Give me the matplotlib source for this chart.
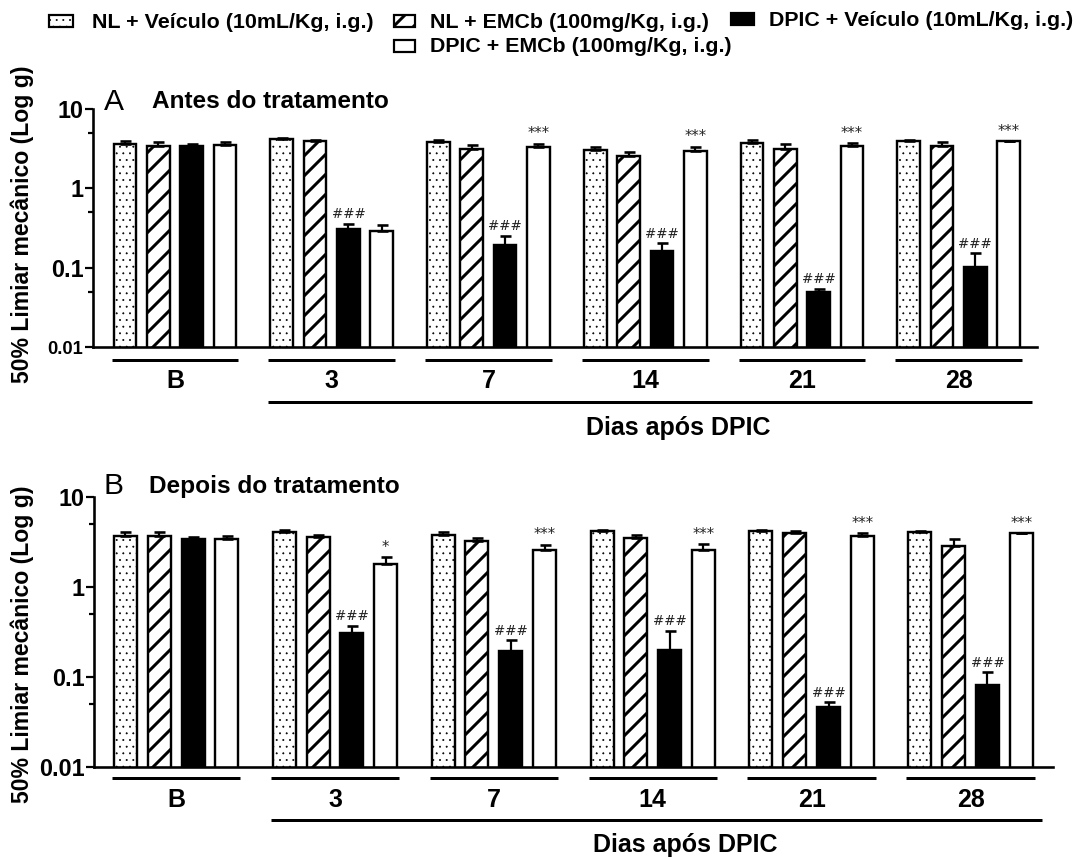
import numpy as np
import matplotlib
matplotlib.use("Agg")
import matplotlib.pyplot as plt
import matplotlib.transforms as mtransforms
from matplotlib.patches import Rectangle
from matplotlib.ticker import LogLocator, NullFormatter, FixedLocator, FixedFormatter

# ---------------------------------------------------------------- data
groups = ["B", "3", "7", "14", "21", "28"]
series_labels = [
    "NL + Veículo (10mL/Kg, i.g.)",
    "NL + EMCb (100mg/Kg, i.g.)",
    "DPIC + Veículo (10mL/Kg, i.g.)",
    "DPIC + EMCb (100mg/Kg, i.g.)",
]

# A: antes do tratamento (média e EPM, g)
a_nl_veh = [3.66, 4.15, 3.84, 3.01, 3.72, 3.99]
a_nl_veh_sem = [0.29, 0.21, 0.26, 0.31, 0.31, 0.11]
a_nl_emcb = [3.39, 3.91, 3.10, 2.53, 3.17, 3.39]
a_nl_emcb_sem = [0.45, 0.12, 0.39, 0.37, 0.49, 0.41]
a_dpic_veh = [3.39, 0.304, 0.191, 0.162, 0.0493, 0.101]
a_dpic_veh_sem = [0.20, 0.055, 0.062, 0.042, 0.005, 0.050]
a_dpic_emcb = [3.56, 0.287, 3.32, 2.95, 3.45, 3.91]
a_dpic_emcb_sem = [0.28, 0.054, 0.34, 0.37, 0.27, 0.0]
a_marks_dpic_veh = ["", "###", "###", "###", "###", "###"]
a_marks_dpic_emcb = ["", "", "***", "***", "***", "***"]

# B: depois do tratamento (média e EPM, g)
b_nl_veh = [3.72, 4.11, 3.74, 4.22, 4.15, 4.08]
b_nl_veh_sem = [0.32, 0.14, 0.30, 0.08, 0.15, 0.12]
b_nl_emcb = [3.72, 3.56, 3.21, 3.50, 3.98, 2.88]
b_nl_emcb_sem = [0.32, 0.22, 0.32, 0.31, 0.22, 0.56]
b_dpic_veh = [3.41, 0.308, 0.193, 0.201, 0.046, 0.082]
b_dpic_veh_sem = [0.18, 0.063, 0.062, 0.126, 0.0062, 0.0315]
b_dpic_emcb = [3.41, 1.80, 2.60, 2.58, 3.72, 3.98]
b_dpic_emcb_sem = [0.31, 0.35, 0.35, 0.39, 0.26, 0.0]
b_marks_dpic_veh = ["", "###", "###", "###", "###", "###"]
b_marks_dpic_emcb = ["", "*", "***", "***", "***", "***"]

y_ticks = [0.01, 0.1, 1, 10]
y_tick_labels = ["0.01", "0.1", "1", "10"]

# ---------------------------------------------------------------- layout
DPI = 120
W, H = 1087, 859


def pt(px):
    return px * 72.0 / DPI


plt.rcParams["font.family"] = ["Liberation Sans", "DejaVu Sans"]
plt.rcParams["hatch.linewidth"] = pt(3.0)
plt.rcParams["hatch.color"] = "black"

fig = plt.figure(figsize=(W / DPI, H / DPI), dpi=DPI)
fig.patch.set_facecolor("white")

GROUP_STEP = 4.7
BAR_W = 0.68
styles = [
    dict(facecolor="white", hatch="...", hatch_lw=pt(0.6)),
    dict(facecolor="white", hatch="//", hatch_lw=pt(3.0)),
    dict(facecolor="black", hatch=None, hatch_lw=None),
    dict(facecolor="white", hatch=None, hatch_lw=None),
]


def styled_bar(ax, x, h, st):
    bars = ax.bar(x, h, width=BAR_W, facecolor=st["facecolor"], edgecolor="black",
                  linewidth=pt(2.4), hatch=st["hatch"], zorder=2)
    if st["hatch_lw"] is not None:
        for b in bars:
            if hasattr(b, "set_hatch_linewidth"):
                b.set_hatch_linewidth(st["hatch_lw"])
    return bars


def panel(rect_px, xlim, means, sems, marks, line_px, long_end,
          small_bottom_label=False):
    left, top, right, bottom = rect_px
    ax = fig.add_axes([left / W, 1 - bottom / H, (right - left) / W, (bottom - top) / H])
    ax.set_yscale("log")
    centers = np.arange(len(groups)) * GROUP_STEP
    for k in range(4):
        x = centers + (k - 1.5)
        styled_bar(ax, x, means[k], styles[k])
        ax.errorbar(x, means[k], yerr=[np.zeros(len(groups)), sems[k]], fmt="none",
                    ecolor="black", elinewidth=pt(2.2), capsize=pt(5.5),
                    capthick=pt(2.6), zorder=3)
        if marks[k] is not None:
            for i, m in enumerate(marks[k]):
                if m:
                    fs = 8.2 if m.startswith("#") else 8.8
                    ax.annotate(m, (x[i], means[k][i] + sems[k][i]),
                                xytext=(0, pt(2.5)), textcoords="offset points",
                                ha="center", va="bottom", fontsize=fs,
                                family="DejaVu Sans", color="#222222", zorder=4)
    ax.set_ylim(0.01, 10)
    ax.set_xlim(*xlim)
    ax.yaxis.set_major_locator(FixedLocator(y_ticks))
    ax.yaxis.set_major_formatter(FixedFormatter(y_tick_labels))
    ax.yaxis.set_minor_locator(LogLocator(base=10, subs=[5.0]))
    ax.yaxis.set_minor_formatter(NullFormatter())
    ax.tick_params(axis="y", which="major", length=pt(8), width=pt(2.2), pad=1,
                   labelsize=14)
    ax.tick_params(axis="y", which="minor", length=pt(5), width=pt(2.2))
    for lab in ax.get_yticklabels():
        lab.set_fontweight("bold")
    if small_bottom_label:
        ax.get_yticklabels()[0].set_fontsize(11)
    ax.set_xticks([])
    for s in ("top", "right"):
        ax.spines[s].set_visible(False)
    for s in ("left", "bottom"):
        ax.spines[s].set_linewidth(pt(2.6))

    # group brackets and labels under the axis
    h_ax = bottom - top
    trans = mtransforms.blended_transform_factory(ax.transData, ax.transAxes)
    y_line = -(line_px[0] - bottom) / h_ax
    y_lab = -(line_px[1] - bottom) / h_ax
    y_long = -(line_px[2] - bottom) / h_ax
    for c, g in zip(centers, groups):
        ax.plot([c - 1.9, c + 1.9], [y_line, y_line], transform=trans, color="black",
                lw=pt(3.0), clip_on=False, solid_capstyle="butt")
        ax.text(c, y_lab, g, transform=trans, ha="center", va="center",
                fontsize=15, fontweight="bold")
    ax.plot([centers[1] - 1.9, centers[-1] + 1.9 + long_end], [y_long, y_long],
            transform=trans, color="black", lw=pt(3.0), clip_on=False,
            solid_capstyle="butt")
    return ax


axA = panel((93, 109, 1037, 347), (-2.46, 25.85),
            [a_nl_veh, a_nl_emcb, a_dpic_veh, a_dpic_emcb],
            [a_nl_veh_sem, a_nl_emcb_sem, a_dpic_veh_sem, a_dpic_emcb_sem],
            [None, None, a_marks_dpic_veh, a_marks_dpic_emcb],
            (360, 381, 402), 0.3, small_bottom_label=True)
axB = panel((94, 497, 1053, 767), (-2.43, 25.94),
            [b_nl_veh, b_nl_emcb, b_dpic_veh, b_dpic_emcb],
            [b_nl_veh_sem, b_nl_emcb_sem, b_dpic_veh_sem, b_dpic_emcb_sem],
            [None, None, b_marks_dpic_veh, b_marks_dpic_emcb],
            (778, 800, 820), 0.2)


def ftext(xp, yp, s, **kw):
    fig.text(xp / W, 1 - yp / H, s, **kw)


# panel letters and titles
ftext(104, 102, "A", fontsize=18, ha="left", va="center")
ftext(152, 101, "Antes do tratamento", fontsize=14.6, fontweight="bold", ha="left", va="center")
ftext(104, 486, "B", fontsize=18, ha="left", va="center")
ftext(149, 487, "Depois do tratamento", fontsize=14.6, fontweight="bold", ha="left", va="center")

# x-axis captions
ftext(678, 428, "Dias após DPIC", fontsize=15, fontweight="bold", ha="center", va="center")
ftext(685, 845, "Dias após DPIC", fontsize=15, fontweight="bold", ha="center", va="center")

# y-axis captions
ylab = "50% Limiar mecânico (Log g)"
ftext(22, 383, ylab, fontsize=13.8, fontweight="bold", rotation=90, ha="center", va="bottom")
ftext(22, 803, ylab, fontsize=13.8, fontweight="bold", rotation=90, ha="center", va="bottom")

# legend
legend_boxes = [(49, 21, 24, 0), (394, 21, 21, 1), (731, 19, 23, 2), (394, 46, 21, 3)]
legend_text_x = [92, 430, 769, 430]
for (bx, by, bw, k), tx in zip(legend_boxes, legend_text_x):
    bh = 11
    st = styles[k]
    r = Rectangle((bx / W, 1 - (by + bh / 2) / H), bw / W, bh / H,
                  transform=fig.transFigure, facecolor=st["facecolor"],
                  edgecolor="black", linewidth=pt(2.2), hatch=st["hatch"])
    if st["hatch_lw"] is not None and hasattr(r, "set_hatch_linewidth"):
        r.set_hatch_linewidth(st["hatch_lw"])
    fig.add_artist(r)
    ftext(tx, by + 1, series_labels[k], fontsize=12.8, fontweight="bold",
          ha="left", va="center")

fig.savefig("out.png", dpi=DPI, facecolor="white")
